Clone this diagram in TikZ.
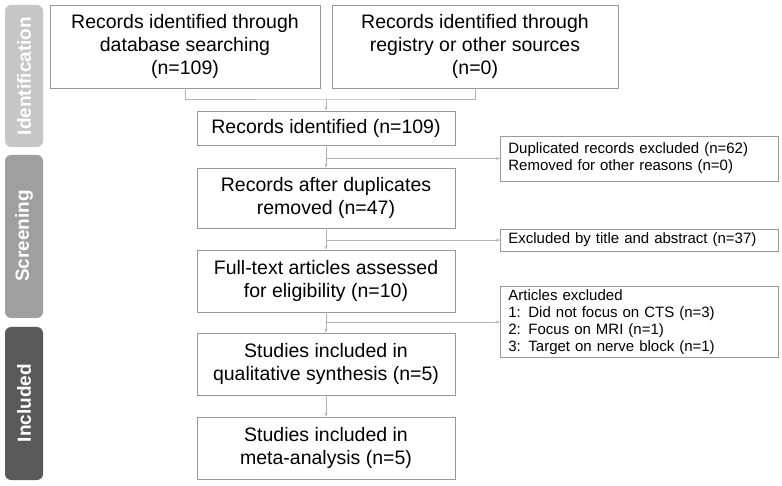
\documentclass[tikz,border=0pt]{standalone}
\usepackage{fontspec}
\setmainfont{Liberation Sans}
\usetikzlibrary{arrows.meta}
\begin{document}
\begin{tikzpicture}[x=1pt,y=-1pt,
  box/.style={draw=gray!80,line width=0.8pt,align=center,font=\fontsize{19.5}{23}\selectfont,inner sep=0},
  sbox/.style={draw=gray!80,line width=0.8pt,align=left,font=\fontsize{15}{17}\selectfont,inner sep=0},
  line/.style={draw=gray!60,line width=0.7pt},
  arr/.style={line,-{Stealth[length=4pt,width=3pt]}},
  side/.style={rounded corners=6pt,text=white,font=\bfseries\fontsize{19}{22}\selectfont}]
\useasboundingbox (0,0) rectangle (782,486);
\fill[side,fill=gray!45] (5,5) rectangle (43,147);
\node[side,rotate=90] (s1) at (24,76) {Identification};
\fill[side,fill=gray!75] (5,155) rectangle (43,318);
\node[side,rotate=90] (s2) at (24,236) {Screening};
\fill[side,fill=black!65] (5,327) rectangle (43,480);
\node[side,rotate=90] (s3) at (24,403) {Included};

\node[box,minimum width=270,minimum height=83] (A) at (185,46.5) {Records identified through\\database searching\\(n=109)};
\node[box,minimum width=286,minimum height=83] (B) at (475,46.5) {Records identified through\\registry or other sources\\(n=0)};
\node[box,minimum width=258,minimum height=34] (C) at (326,128) {Records identified (n=109)};
\node[box,minimum width=258,minimum height=60] (D) at (326,198) {Records after duplicates\\removed (n=47)};
\node[box,minimum width=258,minimum height=62] (G) at (326,281) {Full-text articles assessed\\for eligibility (n=10)};
\node[box,minimum width=258,minimum height=62] (I) at (326,364) {Studies included in\\qualitative synthesis (n=5)};
\node[box,minimum width=258,minimum height=62] (J) at (326,448) {Studies included in\\meta-analysis (n=5)};
\node[sbox,minimum width=278,minimum height=45,anchor=west,text width=270] (E) at (500,158.5) {\hspace*{4pt}Duplicated records excluded (n=62)\\\hspace*{4pt}Removed for other reasons (n=0)};
\node[sbox,minimum width=278,minimum height=22,anchor=west,text width=270] (F) at (500,240) {\hspace*{4pt}Excluded by title and abstract (n=37)};
\node[sbox,minimum width=278,minimum height=71,anchor=west,text width=270] (H) at (500,322) {\hspace*{4pt}Articles excluded\\\hspace*{4pt}1: Did not focus on CTS (n=3)\\\hspace*{4pt}2: Focus on MRI (n=1)\\\hspace*{4pt}3: Target on nerve block (n=1)};

\coordinate (m) at (326,99);
\draw[line] (A.south) |- (m) -| (B.south);
\draw[arr] (m) -- (C.north);
\draw[arr] (C) -- (D);
\draw[arr] (D) -- (G);
\draw[arr] (G) -- (I);
\draw[arr] (I) -- (J);
\draw[arr] (326,158.5) -- (E.west);
\draw[arr] (326,240) -- (F.west);
\draw[arr] (326,322) -- (H.west);
\end{tikzpicture}
\end{document}
